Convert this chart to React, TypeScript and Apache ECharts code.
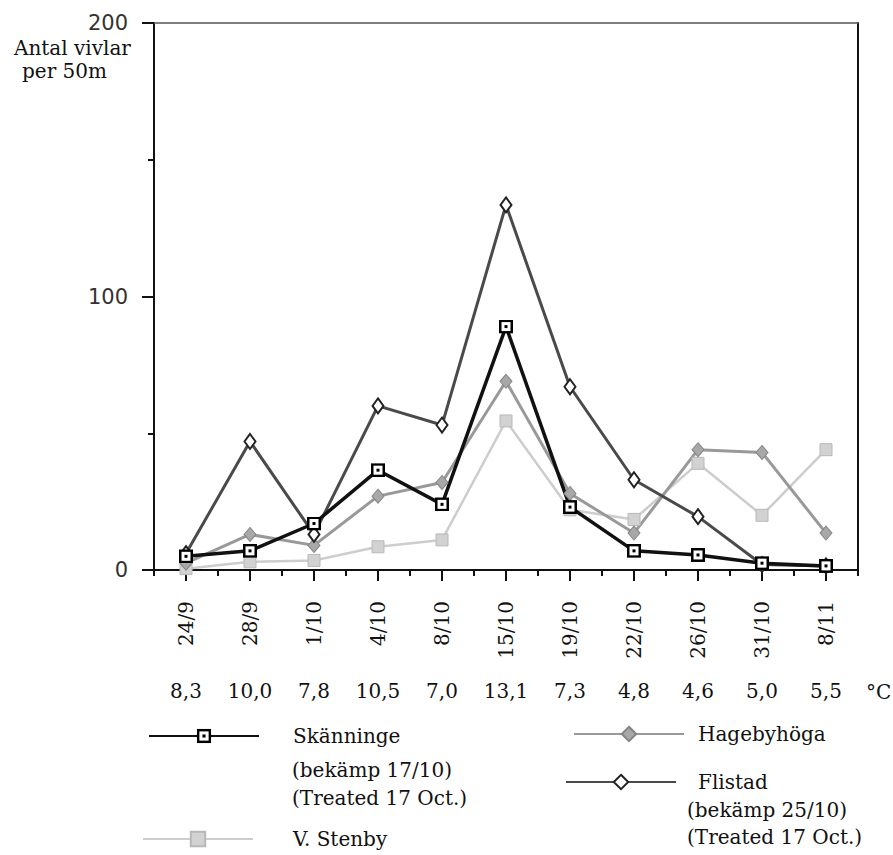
import React, { useEffect, useRef } from "react";
import * as echarts from "echarts";

const dates = ["24/9", "28/9", "1/10", "4/10", "8/10", "15/10", "19/10", "22/10", "26/10", "31/10", "8/11"];
const temps = ["8,3", "10,0", "7,8", "10,5", "7,0", "13,1", "7,3", "4,8", "4,6", "5,0", "5,5"];
const skanninge = [5, 7, 17, 36.5, 24, 89, 23, 7, 5.5, 2.5, 1.5];
const flistad = [6, 47, 13, 60, 53, 133.5, 67, 33, 19.5, 2, 1.5];
const hagebyhoga = [2.5, 13, 9, 27, 32, 69, 28, 13.5, 44, 43, 13.5];
const vStenby = [0.5, 3, 3.5, 8.5, 11, 54.5, 22, 18.5, 39, 20, 44];

const seriesNames = ["Skänninge", "V. Stenby", "Hagebyhöga", "Flistad"];
const subLabels = ["(bekämp 17/10)", "(Treated 17 Oct.)", "(bekämp 25/10)", "(Treated 17 Oct.)"];
const yNameLines = ["Antal vivlar", "per 50m"];
const unitLabel = "°C";

const SERIF = "'DejaVu Serif', 'Liberation Serif', 'Noto Serif', serif";

const squareSvg =
  "<svg xmlns='http://www.w3.org/2000/svg' width='14' height='14' viewBox='0 0 14 14'>" +
  "<rect x='1.25' y='1.25' width='11.5' height='11.5' fill='white' stroke='black' stroke-width='2.5'/>" +
  "<rect x='5.5' y='5.5' width='3' height='3' fill='black'/></svg>";
const squareSymbol = "image://data:image/svg+xml;charset=utf-8," + encodeURIComponent(squareSvg);

export default function App() {
  const ref = useRef<HTMLDivElement>(null);
  useEffect(() => {
    if (!ref.current) return;
    const chart = echarts.init(ref.current, undefined, { renderer: "svg" });
    const textBase = {
      font: "20px " + SERIF,
      fontFamily: SERIF,
      fontSize: 20,
      fill: "#111",
      verticalAlign: "middle" as const,
    };
    const legendText = (pad: number) => ({
      fontFamily: SERIF,
      fontSize: 20,
      color: "#111",
      padding: [12, 0, 0, pad],
    });
    chart.setOption({
      animation: false,
      backgroundColor: "#fff",
      grid: { left: 154, right: 35, top: 23, bottom: 285 },
      xAxis: [
        {
          type: "category",
          data: dates,
          position: "bottom",
          boundaryGap: true,
          axisLine: { show: true, onZero: false, lineStyle: { color: "#111", width: 2 } },
          axisTick: { show: true, alignWithLabel: true, interval: 0, length: 11, lineStyle: { color: "#111", width: 2 } },
          axisLabel: { rotate: 90, margin: 31, interval: 0, fontFamily: SERIF, fontSize: 20, color: "#111" },
          splitLine: { show: false },
        },
        {
          type: "category",
          data: dates,
          position: "bottom",
          boundaryGap: true,
          axisLine: { show: false },
          axisTick: { show: true, interval: 0, length: 6, lineStyle: { color: "#111", width: 2 } },
          axisLabel: { show: false },
          splitLine: { show: false },
        },
        {
          type: "category",
          data: temps,
          position: "bottom",
          boundaryGap: true,
          axisLine: { show: false },
          axisTick: { show: false },
          axisLabel: { margin: 111, interval: 0, fontFamily: SERIF, fontSize: 20, color: "#111" },
          splitLine: { show: false },
        },
        {
          type: "category",
          data: dates,
          position: "top",
          boundaryGap: true,
          axisLine: { show: true, onZero: false, lineStyle: { color: "#555", width: 1.5 } },
          axisTick: { show: false },
          axisLabel: { show: false },
          splitLine: { show: false },
        },
      ],
      yAxis: [
        {
          type: "value",
          min: 0,
          max: 200,
          interval: 100,
          position: "left",
          axisLine: { show: true, onZero: false, lineStyle: { color: "#111", width: 2 } },
          axisTick: { show: true, length: 12, lineStyle: { color: "#111", width: 2 } },
          minorTick: { show: true, splitNumber: 2, length: 6, lineStyle: { color: "#111", width: 2 } },
          axisLabel: { margin: 26, fontFamily: "'DejaVu Sans'", fontSize: 21, color: "#333" },
          splitLine: { show: false },
          minorSplitLine: { show: false },
        },
        {
          type: "value",
          min: 0,
          max: 200,
          interval: 100,
          position: "right",
          axisLine: { show: true, onZero: false, lineStyle: { color: "#111", width: 2 } },
          axisTick: { show: false },
          axisLabel: { show: false },
          splitLine: { show: false },
        },
      ],
      legend: [
        {
          data: [seriesNames[0]], left: 148, top: 726, padding: 0, itemWidth: 110, itemHeight: 18,
          selectedMode: false, textStyle: legendText(29),
        },
        {
          data: [seriesNames[1]], left: 142, top: 829, padding: 0, itemWidth: 110, itemHeight: 18,
          selectedMode: false, textStyle: legendText(35),
        },
        {
          data: [seriesNames[2]], left: 573, top: 724, padding: 0, itemWidth: 110, itemHeight: 18,
          selectedMode: false, textStyle: legendText(9),
        },
        {
          data: [seriesNames[3]], left: 565, top: 772, padding: 0, itemWidth: 110, itemHeight: 18,
          selectedMode: false, textStyle: legendText(17),
        },
      ],
      graphic: [
        { type: "text", x: 14, y: 48, style: { ...textBase, text: yNameLines[0] } },
        { type: "text", x: 22, y: 71, style: { ...textBase, text: yNameLines[1] } },
        { type: "text", x: 866, y: 692, style: { ...textBase, text: unitLabel } },
        { type: "text", x: 292, y: 770, style: { ...textBase, text: subLabels[0] } },
        { type: "text", x: 292, y: 798, style: { ...textBase, text: subLabels[1] } },
        { type: "text", x: 687, y: 810, style: { ...textBase, text: subLabels[2] } },
        { type: "text", x: 687, y: 837, style: { ...textBase, text: subLabels[3] } },
      ],
      series: [
        {
          name: seriesNames[1],
          type: "line",
          data: vStenby,
          xAxisIndex: 0,
          yAxisIndex: 0,
          symbol: "rect",
          symbolSize: 12,
          lineStyle: { color: "#cdcdcd", width: 2.5 },
          itemStyle: { color: "#d2d2d2", borderColor: "#b8b8b8", borderWidth: 1 },
        },
        {
          name: seriesNames[2],
          type: "line",
          data: hagebyhoga,
          xAxisIndex: 0,
          yAxisIndex: 0,
          symbol: "diamond",
          symbolSize: [12, 14],
          lineStyle: { color: "#999", width: 3 },
          itemStyle: { color: "#a8a8a8", borderColor: "#858585", borderWidth: 1 },
        },
        {
          name: seriesNames[3],
          type: "line",
          data: flistad,
          xAxisIndex: 0,
          yAxisIndex: 0,
          symbol: "diamond",
          symbolSize: [11, 15],
          lineStyle: { color: "#4a4a4a", width: 3 },
          itemStyle: { color: "#fff", borderColor: "#222", borderWidth: 2 },
        },
        {
          name: seriesNames[0],
          type: "line",
          data: skanninge,
          xAxisIndex: 0,
          yAxisIndex: 0,
          symbol: squareSymbol,
          symbolSize: 14,
          lineStyle: { color: "#111", width: 3.5 },
          itemStyle: { color: "#111" },
        },
      ],
    });
    return () => chart.dispose();
  }, []);
  return <div ref={ref} style={{ position: "absolute", left: 0, top: 0, width: 893, height: 855 }} />;
}
